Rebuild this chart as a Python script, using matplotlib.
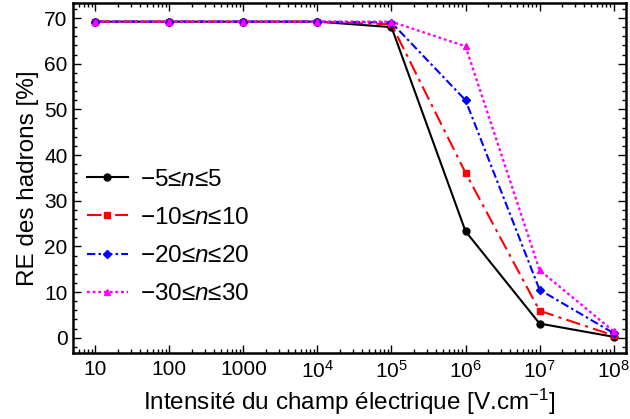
import numpy as np
import matplotlib
matplotlib.use("Agg")
import matplotlib.pyplot as plt
from matplotlib.ticker import FixedLocator, LogLocator, NullFormatter, MultipleLocator

plt.rcParams["font.family"] = ["Liberation Sans", "DejaVu Sans"]
plt.rcParams["mathtext.fontset"] = "custom"
plt.rcParams["mathtext.rm"] = "Liberation Sans"
plt.rcParams["mathtext.it"] = "Liberation Sans:italic"

field = [1e1, 1e2, 1e3, 1e4, 1e5, 1e6, 1e7, 1e8]
re_n5 = [69.2, 69.2, 69.2, 69.2, 68.0, 23.3, 3.1, 0.2]
re_n10 = [69.2, 69.2, 69.2, 69.2, 68.6, 36.1, 5.9, 0.5]
re_n20 = [69.2, 69.2, 69.2, 69.2, 69.0, 52.0, 10.5, 1.0]
re_n30 = [69.2, 69.2, 69.2, 69.2, 69.2, 63.8, 14.8, 1.4]

labels = ["\u22125\u2264$n$\u22645", "\u221210\u2264$n$\u226410",
          "\u221220\u2264$n$\u226420", "\u221230\u2264$n$\u226430"]
xtick_labels = ["10", "100", "1000", "10$^4$", "10$^5$", "10$^6$", "10$^7$", "10$^8$"]

fig = plt.figure(figsize=(6.3, 4.19), dpi=100)
ax = fig.add_axes([0.116, 0.158, 0.878, 0.835])

ax.plot(field, re_n5, color="black", ls="-", lw=1.5, marker="o", ms=5, label=labels[0])
ax.plot(field, re_n10, color="red", ls=(0, (7, 2.5, 1.5, 2.5)), lw=1.5, marker="s", ms=4, label=labels[1])
ax.plot(field, re_n20, color="blue", ls=(0, (4, 1.5, 1.2, 1.5)), lw=1.5, marker="D", ms=4, label=labels[2])
ax.plot(field, re_n30, color="magenta", ls=(0, (1.2, 1.2)), lw=1.7, marker="^", ms=5, label=labels[3])

ax.set_xscale("log")
ax.set_xlim(10 ** 0.70, 10 ** 8.17)
ax.set_ylim(-3.3, 73.3)

ax.xaxis.set_major_locator(FixedLocator(field))
ax.set_xticklabels(xtick_labels)
ax.xaxis.set_minor_locator(LogLocator(base=10, subs=np.arange(2, 10), numticks=20))
ax.xaxis.set_minor_formatter(NullFormatter())
ax.yaxis.set_major_locator(MultipleLocator(10))
ax.yaxis.set_minor_locator(MultipleLocator(2))

ax.tick_params(which="both", direction="in", top=True, right=True, labelsize=15, width=1)
ax.tick_params(which="major", length=6)
ax.tick_params(which="minor", length=3)
ax.tick_params(axis="x", pad=5)
ax.tick_params(axis="y", pad=4)
for sp in ax.spines.values():
    sp.set_linewidth(1.8)

ax.set_xlabel("Intensité du champ électrique [V.cm$^{-1}$]", fontsize=17.5, labelpad=4)
ax.set_ylabel("RE des hadrons [%]", fontsize=17.5, labelpad=4)

ax.legend(loc="center left", bbox_to_anchor=(-0.015, 0.331), frameon=False, fontsize=17.5,
          handlelength=1.7, labelspacing=0.66, handletextpad=0.5)

fig.savefig("out.png", dpi=100)
